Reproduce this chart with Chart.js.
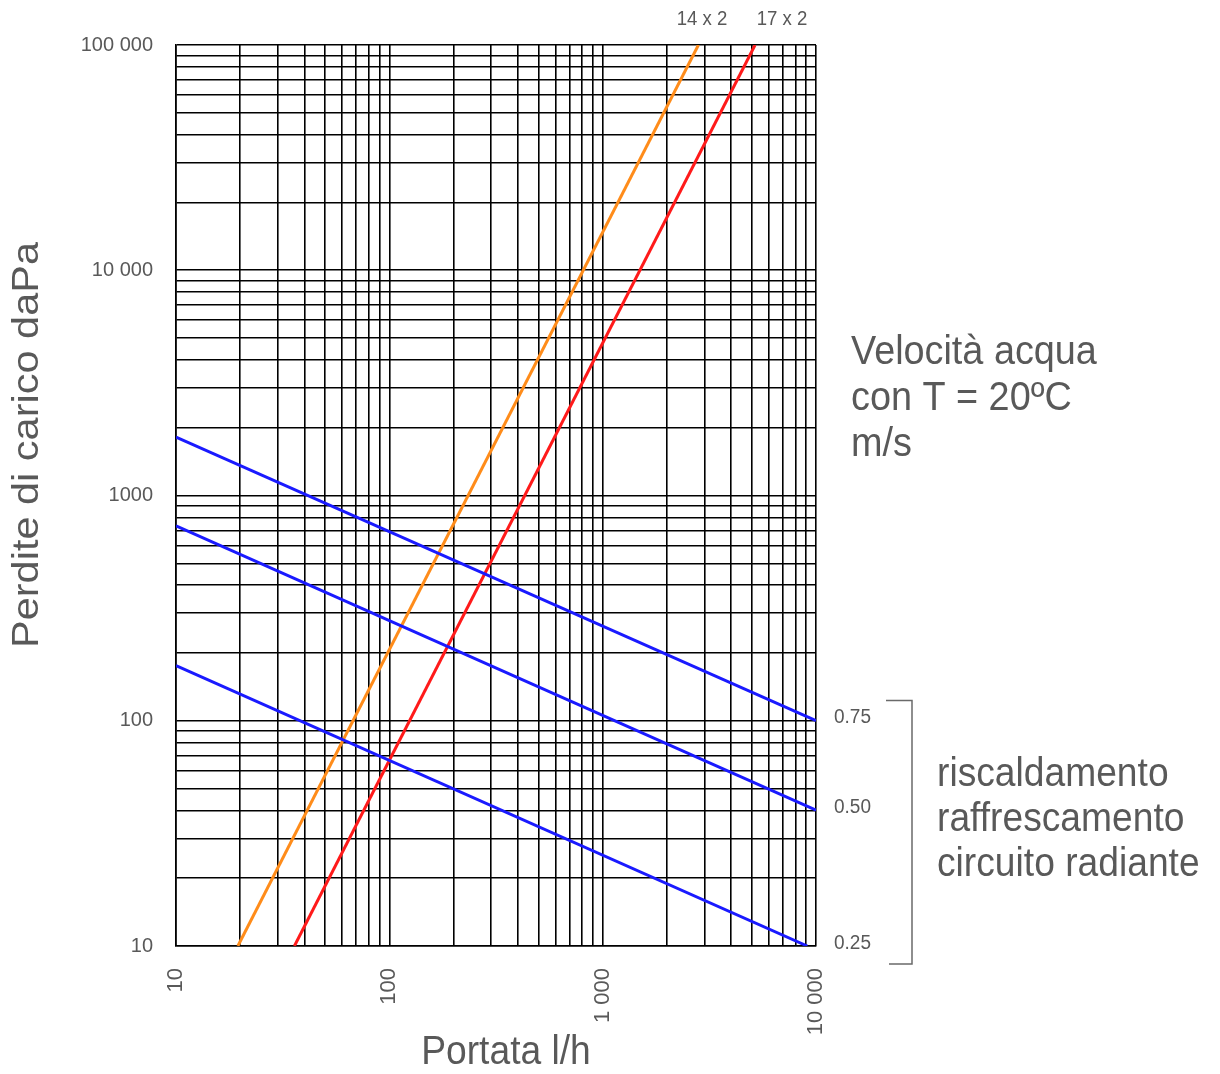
<!DOCTYPE html>
<html><head><meta charset="utf-8">
<script src="https://cdn.jsdelivr.net/npm/chart.js@4"></script>
<style>html,body{margin:0;padding:0;background:#fff;}canvas{display:block;}</style>
</head><body>
<canvas id="c" width="1220" height="1074"></canvas>
<script>
// ---- data ----
const xMajorTicks = [10, 100, 1000, 10000];
const xTickLabels = ['10', '100', '1 000', '10 000'];
const yMajorTicks = [10, 100, 1000, 10000, 100000];
const yTickLabels = ['10', '100', '1000', '10 000', '100 000'];
const minorMultipliers = [1, 2, 3, 4, 5, 6, 7, 8, 9];

const pipeNames = ['14 x 2', '17 x 2'];
const pipe14Flow = [19.5, 2810];
const pipe14Loss = [10, 100000];
const pipe17Flow = [35.9, 5180];
const pipe17Loss = [10, 100000];

const velocityLabels = ['0.75', '0.50', '0.25'];
const vel075Flow = [10, 10000];
const vel075Loss = [1815, 100];
const vel050Flow = [10, 10000];
const vel050Loss = [734, 40.1];
const vel025Flow = [10, 9100];
const vel025Loss = [175.5, 10];

const xTitle = 'Portata l/h';
const yTitle = 'Perdite di carico daPa';
const noteTop = ['Velocità acqua', 'con T = 20ºC', 'm/s'];
const noteBottom = ['riscaldamento', 'raffrescamento', 'circuito radiante'];

// ---- helpers ----
function pts(xs, ys) { return xs.map((x, i) => ({x: x, y: ys[i]})); }
function gridTicks(majors) {
  const out = [];
  for (let i = 0; i < majors.length - 1; i++) {
    minorMultipliers.forEach(m => out.push(majors[i] * m));
  }
  out.push(majors[majors.length - 1]);
  return out;
}
function labelFor(v, majors, labels) {
  const i = majors.indexOf(v);
  return i >= 0 ? labels[i] : '';
}

const FONT = "'Liberation Sans', Arial, sans-serif";
const TXT = '#595959';
Chart.defaults.font.family = FONT;

function drawText(ctx, text, x, y, size, align, sx) {
  ctx.save();
  ctx.translate(x, y);
  ctx.scale(sx, 1);
  ctx.font = size + 'px ' + FONT;
  ctx.fillStyle = TXT;
  ctx.textAlign = align;
  ctx.textBaseline = 'middle';
  ctx.fillText(text, 0, 0);
  ctx.restore();
}

const annotations = {
  id: 'annotations',
  afterDraw(chart) {
    const ctx = chart.ctx;
    const a = chart.chartArea;
    const ys = chart.scales.y;
    // y title
    ctx.save();
    ctx.translate(28, 445);
    ctx.scale(0.88, 1);
    ctx.rotate(-Math.PI / 2);
    ctx.font = '41.5px ' + FONT;
    ctx.fillStyle = TXT;
    ctx.textAlign = 'center';
    ctx.textBaseline = 'middle';
    ctx.fillText(yTitle, 0, 0);
    ctx.restore();
    // x title
    drawText(ctx, xTitle, 506, 1053, 40, 'center', 0.93);
    // pipe labels
    drawText(ctx, pipeNames[0], 702, 19, 20, 'center', 0.93);
    drawText(ctx, pipeNames[1], 782, 19, 20, 'center', 0.93);
    // velocity labels
    const ends = [vel075Loss[1], vel050Loss[1], vel025Loss[1]];
    ends.forEach((v, i) => {
      drawText(ctx, velocityLabels[i], a.right + 18, ys.getPixelForValue(v) - 3, 20, 'left', 0.95);
    });
    // bracket
    ctx.save();
    ctx.strokeStyle = '#6a6a6a';
    ctx.lineWidth = 1.5;
    ctx.beginPath();
    ctx.moveTo(886, 700.5);
    ctx.lineTo(912, 700.5);
    ctx.lineTo(912, 964);
    ctx.lineTo(889, 964);
    ctx.stroke();
    ctx.restore();
    // notes
    noteTop.forEach((t, i) => drawText(ctx, t, 851, 353 + i * 46, 40, 'left', 0.945));
    noteBottom.forEach((t, i) => drawText(ctx, t, 937, 775 + i * 45, 40, 'left', 0.93));
  }
};

const lineDs = (label, data, color) => ({
  label: label, data: data, showLine: true, borderColor: color, backgroundColor: color,
  borderWidth: 3, pointRadius: 0, fill: false
});

new Chart(document.getElementById('c'), {
  type: 'scatter',
  data: {
    datasets: [
      lineDs(velocityLabels[0], pts(vel075Flow, vel075Loss), '#1a1aff'),
      lineDs(velocityLabels[1], pts(vel050Flow, vel050Loss), '#1a1aff'),
      lineDs(velocityLabels[2], pts(vel025Flow, vel025Loss), '#1a1aff'),
      lineDs(pipeNames[0], pts(pipe14Flow, pipe14Loss), '#ff8c1a'),
      lineDs(pipeNames[1], pts(pipe17Flow, pipe17Loss), '#ff1a1a')
    ]
  },
  options: {
    responsive: false,
    animation: false,
    devicePixelRatio: 1,
    layout: {padding: {left: 0, top: 45, right: 404, bottom: 0}},
    plugins: {legend: {display: false}, tooltip: {enabled: false}},
    scales: {
      x: {
        type: 'logarithmic', min: 10, max: 10000,
        afterBuildTicks: s => { s.ticks = gridTicks(xMajorTicks).map(v => ({value: v})); },
        afterFit: s => { s.height = 128; },
        grid: {color: '#000', lineWidth: 1.6, drawTicks: false},
        border: {color: '#000', width: 1.6},
        ticks: {autoSkip: false, minRotation: 90, maxRotation: 90, padding: 22, color: TXT,
          font: {size: 22}, callback: v => labelFor(v, xMajorTicks, xTickLabels)}
      },
      y: {
        type: 'logarithmic', min: 10, max: 100000,
        afterBuildTicks: s => { s.ticks = gridTicks(yMajorTicks).map(v => ({value: v})); },
        afterFit: s => { s.width = 176; },
        grid: {color: '#000', lineWidth: 1.6, drawTicks: false},
        border: {color: '#000', width: 1.6},
        ticks: {autoSkip: false, padding: 23, color: TXT,
          font: {size: 20}, callback: v => labelFor(v, yMajorTicks, yTickLabels)}
      }
    }
  },
  plugins: [annotations]
});
</script>
</body></html>
